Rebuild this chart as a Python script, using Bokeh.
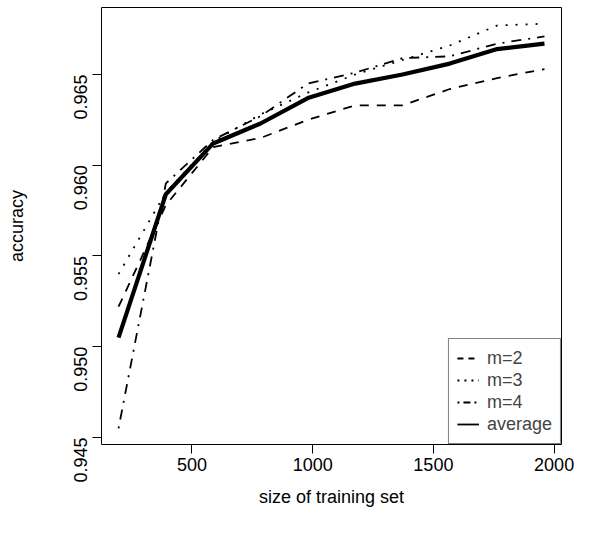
import numpy as np
from bokeh.plotting import figure
from bokeh.models import Range1d, FixedTicker, NumeralTickFormatter, Legend, LegendItem
from bokeh.embed import file_html
from bokeh.resources import INLINE

# ---- data ----
train_size = [196, 392, 588, 784, 980, 1176, 1372, 1568, 1764, 1960]
acc_m2 = [0.9522, 0.9578, 0.9610, 0.9615, 0.9625, 0.9633, 0.9633, 0.9642, 0.9648, 0.9653]
acc_m3 = [0.9540, 0.9585, 0.9613, 0.9628, 0.9640, 0.9650, 0.9658, 0.9666, 0.9677, 0.9678]
acc_m4 = [0.9455, 0.9590, 0.9614, 0.9627, 0.9645, 0.9651, 0.9659, 0.9660, 0.9667, 0.9671]
acc_avg = [0.9505, 0.9584, 0.9612, 0.9623, 0.9637, 0.9645, 0.9650, 0.9656, 0.9664, 0.9667]
x_ticks = [500, 1000, 1500, 2000]
y_ticks = [0.945, 0.950, 0.955, 0.960, 0.965]
labels = ["m=2", "m=3", "m=4", "average"]

# R-style 4% range extension
def r_range(vals):
    lo, hi = min(vals), max(vals)
    d = (hi - lo) * 0.04
    return lo - d, hi + d

xlo, xhi = r_range(train_size)
ylo, yhi = r_range(acc_m2 + acc_m3 + acc_m4 + acc_avg)

FONT = "Liberation Sans"
FS = "18px"

p = figure(width=582, height=530, output_backend="svg", toolbar_location=None,
           x_range=Range1d(xlo, xhi), y_range=Range1d(ylo, yhi),
           min_border_left=101, min_border_right=21, min_border_top=7, min_border_bottom=86)
p.xgrid.visible = False
p.ygrid.visible = False
p.outline_line_color = "black"
p.outline_line_width = 1
p.outline_line_alpha = 1

for ax in (p.xaxis[0], p.yaxis[0]):
    ax.axis_line_color = None
    ax.major_tick_out = 9
    ax.major_tick_in = 0
    ax.minor_tick_out = 0
    ax.minor_tick_in = 0
    ax.major_tick_line_color = "black"
    ax.major_label_text_font = FONT
    ax.major_label_text_font_size = FS
    ax.major_label_text_color = "black"
    ax.axis_label_text_font = FONT
    ax.axis_label_text_font_size = FS
    ax.axis_label_text_font_style = "normal"
    ax.axis_label_text_color = "black"

p.xaxis.ticker = FixedTicker(ticks=x_ticks)
p.yaxis.ticker = FixedTicker(ticks=y_ticks)
p.yaxis.formatter = NumeralTickFormatter(format="0.000")
p.yaxis.major_label_orientation = np.pi / 2
p.xaxis.axis_label = "size of training set"
p.yaxis.axis_label = "accuracy"
p.xaxis.major_label_standoff = 4
p.yaxis.major_label_standoff = 12
p.xaxis.axis_label_standoff = 13
p.yaxis.axis_label_standoff = 38

lw_thin = 1.8
p.line(train_size, acc_m2, line_color="black", line_width=lw_thin, line_dash="9 8")
p.line(train_size, acc_m3, line_color="black", line_width=lw_thin, line_dash="2 8")
p.line(train_size, acc_m4, line_color="black", line_width=lw_thin, line_dash="2 7 10 7")
p.line(train_size, acc_avg, line_color="black", line_width=4.2)

# legend samples (thin lines, as in the reference legend); one NaN point so nothing is plotted
nan_x = [np.nan]
nan_y = [np.nan]
k2 = p.line(nan_x, nan_y, line_color="black", line_width=lw_thin, line_dash="6 5")
k3 = p.line(nan_x, nan_y, line_color="black", line_width=lw_thin, line_dash="2 5")
k4 = p.line(nan_x, nan_y, line_color="black", line_width=lw_thin, line_dash="2 4 7 4")
ka = p.line(nan_x, nan_y, line_color="black", line_width=lw_thin)

legend = Legend(items=[LegendItem(label=labels[0], renderers=[k2]),
                       LegendItem(label=labels[1], renderers=[k3]),
                       LegendItem(label=labels[2], renderers=[k4]),
                       LegendItem(label=labels[3], renderers=[ka])],
                location="bottom_right", margin=0, padding=8, spacing=0,
                glyph_width=22, glyph_height=22, label_height=22, label_standoff=8,
                label_text_font=FONT, label_text_font_size=FS,
                border_line_color="black", border_line_width=1,
                background_fill_color="white", background_fill_alpha=1)
p.add_layout(legend)

open("out.html", "w").write(file_html(p, INLINE))
